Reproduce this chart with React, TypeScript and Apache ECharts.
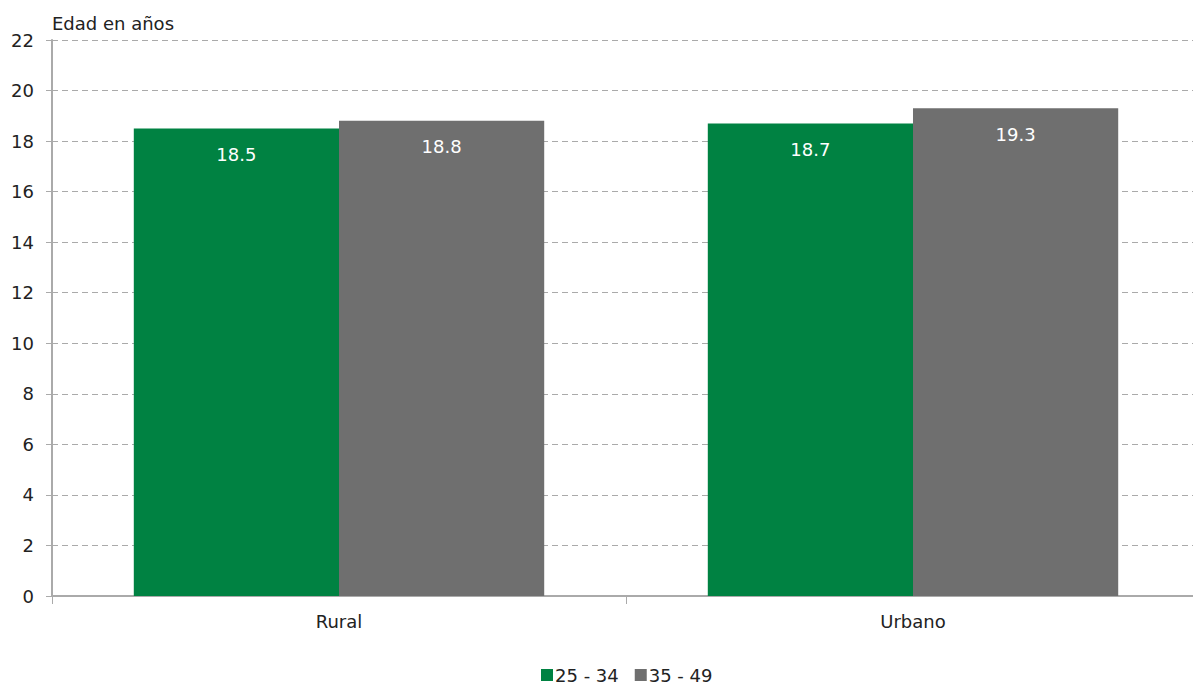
import React, { useEffect, useRef } from "react";
import * as echarts from "echarts";

const categories = ["Rural", "Urbano"];
const seriesNames = ["25 - 34", "35 - 49"];
const values2534 = [18.5, 18.7];
const values3549 = [18.8, 19.3];
const colors = ["#008242", "#6f6f6f"];
const FONT = "DejaVu Sans";

export default function App() {
  const ref = useRef<HTMLDivElement>(null);
  useEffect(() => {
    const chart = echarts.init(ref.current!, null, { renderer: "svg" });
    const label = {
      show: true,
      position: "insideTop",
      distance: 17,
      color: "#ffffff",
      fontSize: 18,
      fontFamily: FONT,
      formatter: (p: any) => p.value.toFixed(1),
    };
    chart.setOption({
      animation: false,
      textStyle: { fontFamily: FONT },
      grid: { left: 52, right: 0, top: 40, bottom: 89, containLabel: false },
      graphic: [
        {
          type: "text",
          left: 52,
          top: 14,
          style: { text: "Edad en años", fontSize: 18, fontFamily: FONT, fill: "#222" },
        },
      ],
      legend: {
        bottom: -4,
        left: 536,
        icon: "rect",
        itemWidth: 12,
        itemHeight: 12,
        itemGap: 16,
        textStyle: { fontSize: 18, fontFamily: FONT, color: "#222", padding: [0, 0, 0, -3] },
        data: seriesNames,
      },
      xAxis: {
        type: "category",
        data: categories,
        axisLine: { lineStyle: { color: "#aaaaaa", width: 2 } },
        axisTick: { show: true, length: 8, lineStyle: { color: "#aaaaaa" } },
        axisLabel: { fontSize: 18, color: "#222", margin: 16, fontFamily: FONT },
      },
      yAxis: {
        type: "value",
        min: 0,
        max: 22,
        interval: 2,
        axisLine: { show: true, lineStyle: { color: "#aaaaaa", width: 2 } },
        axisTick: { show: true, length: 6, lineStyle: { color: "#aaaaaa" } },
        axisLabel: { fontSize: 18, color: "#222", margin: 18, fontFamily: FONT },
        splitLine: { lineStyle: { color: "#aaaaaa", type: [6, 4] } },
      },
      series: [
        {
          name: seriesNames[0],
          type: "bar",
          data: values2534,
          itemStyle: { color: colors[0] },
          barGap: "0%",
          barCategoryGap: "28.5%",
          label,
        },
        {
          name: seriesNames[1],
          type: "bar",
          data: values3549,
          itemStyle: { color: colors[1] },
          barGap: "0%",
          barCategoryGap: "28.5%",
          label,
        },
      ],
    });
    return () => chart.dispose();
  }, []);
  return (
    <div
      ref={ref}
      style={{ position: "fixed", left: 0, top: 0, width: 1200, height: 685, background: "#fff" }}
    />
  );
}
